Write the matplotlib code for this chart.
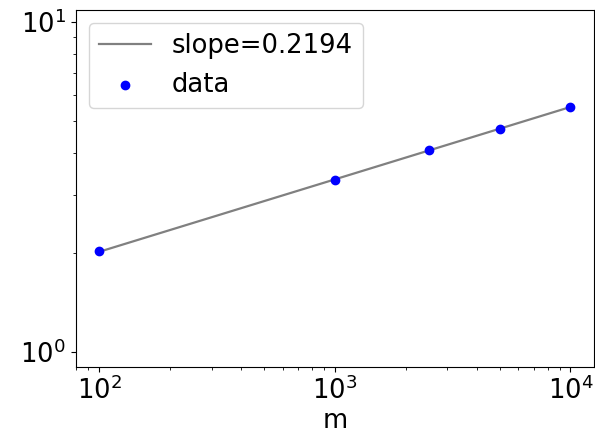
import numpy as np
import matplotlib
matplotlib.use("Agg")
import matplotlib.pyplot as plt

# measurements
m_values = [100, 1000, 2500, 5000, 10000]
y_values = [2.02, 3.32, 4.09, 4.74, 5.52]
slope = 0.2194

plt.rcParams['font.size'] = 18.6

fig = plt.figure(figsize=(5.95, 4.34), dpi=100)
ax = fig.add_axes([0.1272, 0.1544, 0.8711, 0.8226])

x = np.array(m_values, dtype=float)
y = np.array(y_values, dtype=float)
intercept = np.mean(np.log10(y) - slope * np.log10(x))
fit = 10 ** (intercept + slope * np.log10(x))

ax.plot(x, fit, color='gray', lw=1.6, label=f'slope={slope}')
ax.scatter(x, y, color='blue', s=36, label='data', zorder=3)

ax.set_xscale('log')
ax.set_yscale('log')
ax.set_xlim(10 ** 1.9, 10 ** 4.1)
ax.set_ylim(10 ** -0.0455, 10 ** 1.0364)
ax.set_xlabel('m', labelpad=2)
ax.legend(loc='upper left')

fig.savefig('out.png', dpi=100)
